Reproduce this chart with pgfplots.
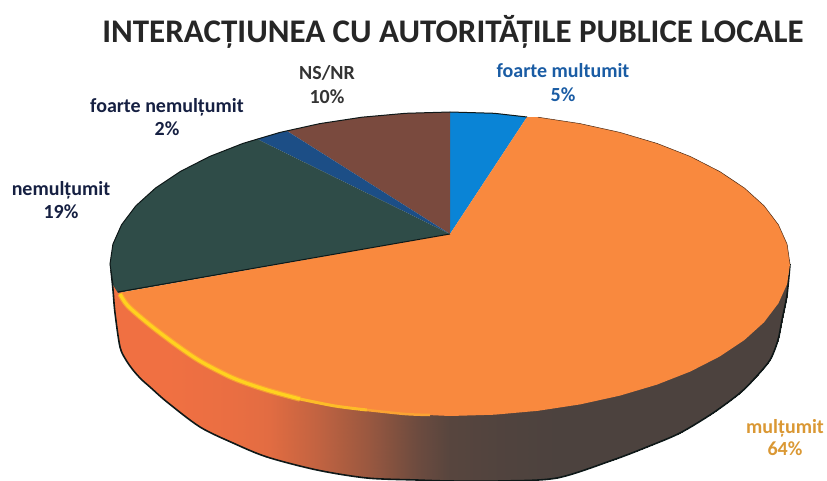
\documentclass[border=0pt]{standalone}
\usepackage{pgfplots}
\pgfplotsset{compat=1.18}
\usepackage{fontspec}
\setmainfont{Carlito}
\definecolor{cblue}{RGB}{10,132,214}
\definecolor{corange}{RGB}{249,137,62}
\definecolor{cgreen}{RGB}{47,76,72}
\definecolor{cnavy}{RGB}{28,78,134}
\definecolor{cbrown}{RGB}{122,74,62}
\definecolor{cedge}{RGB}{14,24,24}
\definecolor{cyell}{RGB}{255,210,31}
\definecolor{lnavy}{RGB}{22,32,66}
\definecolor{lblue}{RGB}{26,92,164}
\definecolor{lgold}{RGB}{218,152,52}
\begin{document}
\begin{tikzpicture}
\useasboundingbox (0,0) rectangle (827pt,481pt);
\begin{axis}[
  at={(0,0)}, anchor=south west,
  scale only axis, width=827pt, height=481pt,
  xmin=0, xmax=827, ymin=0, ymax=481, y dir=reverse,
  hide axis, clip=true,
  colormap={side}{rgb255(0cm)=(240,112,66); rgb255(1cm)=(76,66,62)},
  point meta min=0, point meta max=1]
% side of the pie
\addplot[surf, shader=interp, mesh/rows=2, point meta=explicit] table[x=x,y=y,meta=c] {
x y c
113 285 0
120 290 0
126 297 0
133 305 0
141 312 0
150 320 0
167 332 0
200 355 0.02
233 372 0.04
267 385 0.08
317 398 0.28
367 405 0.52
417 410 0.8
450 412 0.93
500 412 0.97
557 405 1
613 388 1
647 378 1
680 365 1
713 350 1
740 335 1
755 318 1
770 300 1
778 290 1
782 280 1
787 265 1
113 300 0
120 347 0
126 360 0
133 370 0
141 379 0
150 387 0
167 402 0
200 427 0.02
233 443 0.04
267 457 0.08
317 470 0.28
367 478 0.52
417 480 0.8
450 481 0.93
500 481 0.97
557 478 1
613 460 1
647 447 1
680 433 1
713 413 1
740 393 1
755 378 1
770 360 1
778 340 1
782 320 1
787 295 1
};
% bottom outline
\addplot[draw=cedge, line width=1.6pt, smooth, tension=0.5] coordinates {(111,270)(113,290)(115,313)(120,347)(126,360)(133,370)(141,379)(150,387)(167,402)(200,427)(233,443)(267,457)(317,470)(367,478)(417,480)(450,481)(500,481)(557,478)(613,460)(647,447)(680,433)(713,413)(740,393)(755,378)(770,360)(778,340)(782,320)(787,295)(790,264)};
% top face: foarte multumit
\addplot[fill=cblue, draw=none] coordinates {(450,234)(450,112)(494.4,113.3)(527,117)} --cycle;
% NS/NR
\addplot[fill=cbrown, draw=none] coordinates {(450,234)(287,131)(319.9,123.6)(362,117.2)(405.6,113.3)(450,112)} --cycle;
% foarte nemultumit
\addplot[fill=cnavy, draw=none] coordinates {(450,234)(257,139)(280,132.4)(287,131)} --cycle;
% nemultumit
\addplot[fill=cgreen, draw=none] coordinates {(450,234)(118,293)(113,285)(110,264)(112.9,244.2)(121.6,224.7)(135.9,205.8)(155.6,188)(180.3,171.5)(209.6,156.5)(243,143.4)(257,139)} --cycle;
% multumit
\addplot[fill=corange, draw=none] coordinates {(450,234)(527,117)(538,117.2)(580.1,123.6)(620,132.4)(657,143.4)(690.4,156.5)(719.7,171.5)(744.4,188)(764.1,205.8)(778.4,224.7)(787.1,244.2)(790,264)(787.1,284)(778.4,303.3)(764.1,322.2)(744.4,340)(719.7,356.5)(690.4,371.5)(657,384.6)(620,395.6)(580.1,404.4)(538,410.8)(494.4,414.7)(450,416)(405,414)(350,408)(310,401)(267,390)(233,377)(200,360)(175,344)(150,325)(128,308)(118,293)} --cycle;
% outlines of the top
\addplot[draw=cedge, line width=1pt] coordinates {(113,285)(110,264)(112.9,244.2)(121.6,224.7)(135.9,205.8)(155.6,188)(180.3,171.5)(209.6,156.5)(243,143.4)(280,132.4)(319.9,123.6)(362,117.2)(405.6,113.3)(450,112)(494.4,113.3)(527,117)};
\addplot[draw=black!70!corange, line width=0.5pt] coordinates {(538,117.2)(580.1,123.6)(620,132.4)(657,143.4)(690.4,156.5)(719.7,171.5)(744.4,188)(764.1,205.8)(778.4,224.7)(787.1,244.2)(790,264)};
\addplot[draw=cedge, line width=1pt] coordinates {(450,234)(118,292)};
% highlight on the front edge
\addplot[draw=cyell!55!corange, line width=5.5pt, smooth, opacity=0.7] coordinates {(120,294)(128,306)(150,325)(175,344)(200,361)(233,378)(267,390)(300,399)};
\addplot[draw=cyell, line width=3.2pt, smooth] coordinates {(120,294)(128,306)(150,325)(175,344)(200,361)(233,378)(267,390)(300,399)};
\addplot[draw=cyell!70!corange, line width=3pt, smooth] coordinates {(300,399)(335,406)(367,410)};
\addplot[draw=cyell!35!corange, line width=2.5pt, smooth] coordinates {(367,410)(405,414)(430,415)};
% texts
\node[anchor=center, font=\fontsize{33}{33}\selectfont\bfseries, text=black!85] at (axis cs:453,32) {INTERACȚIUNEA CU AUTORITĂȚILE PUBLICE LOCALE};
\node[font=\fontsize{20}{20}\selectfont\bfseries, text=black!80, align=center] at (axis cs:327,85) {NS/NR\\[4pt]10\%};
\node[font=\fontsize{20}{20}\selectfont\bfseries, text=lblue, align=center] at (axis cs:563,83) {foarte multumit\\[4pt]5\%};
\node[font=\fontsize{20}{20}\selectfont\bfseries, text=lnavy, align=center] at (axis cs:167,117) {foarte nemulțumit\\[3pt]2\%};
\node[font=\fontsize{20}{20}\selectfont\bfseries, text=lnavy, align=center] at (axis cs:61,200) {nemulțumit\\[3pt]19\%};
\node[font=\fontsize{20}{20}\selectfont\bfseries, text=lgold, align=center] at (axis cs:785,438) {mulțumit\\[2pt]64\%};
\end{axis}
\end{tikzpicture}
\end{document}
